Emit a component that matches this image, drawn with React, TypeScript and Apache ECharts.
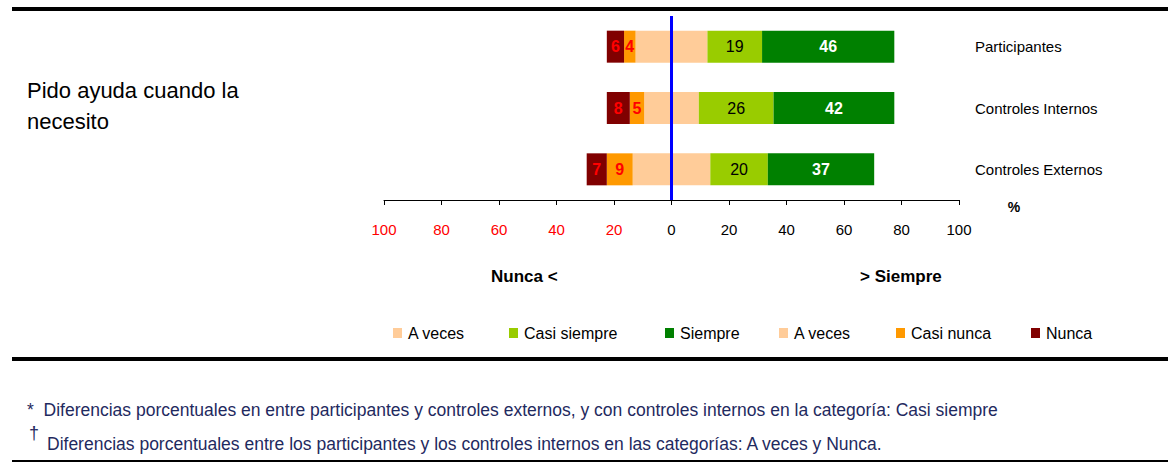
import React, { useEffect, useRef } from "react";
import * as echarts from "echarts";

const categories = ["Participantes", "Controles Internos", "Controles Externos"];
const nunca = [6, 8, 7];
const casiNunca = [4, 5, 9];
const aVeces = [25, 19, 27];
const casiSiempre = [19, 26, 20];
const siempre = [46, 42, 37];

const titleLines = ["Pido ayuda cuando la", "necesito"];
const legendNames = ["A veces", "Casi siempre", "Siempre", "A veces", "Casi nunca", "Nunca"];
const footnotes = [
  "*  Diferencias porcentuales en entre participantes y controles externos, y con controles internos en la categoría: Casi siempre",
  "Diferencias porcentuales entre los participantes y los controles internos en las categorías: A veces y Nunca.",
];

const COLORS: Record<string, string> = {
  "A veces": "#FFCC99",
  "Casi siempre": "#99CC00",
  Siempre: "#008000",
  "Casi nunca": "#FF9900",
  Nunca: "#800000",
};

const FONT = '"Liberation Sans", Arial, sans-serif';
const NAVY = "#1F2A60";

export default function App() {
  const ref = useRef<HTMLDivElement>(null);
  useEffect(() => {
    if (!ref.current) return;
    const chart = echarts.init(ref.current, undefined, { renderer: "svg" });

    const redLabel = {
      show: true,
      position: "inside",
      color: "#FF0000",
      fontWeight: "bold",
      fontSize: 16,
      fontFamily: FONT,
      formatter: (p: any) => String(Math.abs(p.value)),
    };

    const legendX = [393, 509, 665, 779, 896, 1031];
    const legendGraphics: any[] = [];
    legendNames.forEach((n, i) => {
      legendGraphics.push({
        type: "rect",
        shape: { x: legendX[i], y: 328, width: 9, height: 10 },
        style: { fill: COLORS[n] },
      });
      legendGraphics.push({
        type: "text",
        x: legendX[i] + 15,
        y: 333,
        style: { text: n, font: `16px ${FONT}`, fill: "#000", verticalAlign: "middle", align: "left" },
      });
    });

    const option: any = {
      animation: false,
      backgroundColor: "#fff",
      grid: { left: 384, right: 209, top: 16, height: 184, outerBoundsMode: "none" },
      xAxis: {
        type: "value",
        min: -100,
        max: 100,
        interval: 20,
        splitLine: { show: false },
        axisLine: { show: true, lineStyle: { color: "#000", width: 1 } },
        axisTick: { show: true, length: 5, lineStyle: { color: "#000" } },
        axisLabel: {
          margin: 22,
          formatter: (v: number) => (v < 0 ? `{r|${-v}}` : `{k|${v}}`),
          rich: {
            r: { color: "#FF0000", fontSize: 15, fontFamily: FONT },
            k: { color: "#000", fontSize: 15, fontFamily: FONT },
          },
        },
      },
      yAxis: {
        type: "category",
        data: categories,
        inverse: true,
        position: "right",
        axisLine: { show: false },
        axisTick: { show: false },
        splitLine: { show: false },
        axisLabel: {
          margin: 16,
          fontSize: 15,
          color: "#000",
          fontFamily: FONT,
          align: "left",
          verticalAlign: "middle",
          padding: [0, 0, 4, 0],
        },
      },
      series: [
        {
          name: "A veces (izq)",
          type: "bar",
          stack: "total",
          barWidth: 32,
          data: aVeces.map((v) => -v / 2),
          itemStyle: { color: COLORS["A veces"] },
        },
        {
          name: "Casi nunca",
          type: "bar",
          stack: "total",
          barWidth: 32,
          data: casiNunca.map((v) => -v),
          itemStyle: { color: COLORS["Casi nunca"] },
          label: redLabel,
        },
        {
          name: "Nunca",
          type: "bar",
          stack: "total",
          barWidth: 32,
          data: nunca.map((v) => -v),
          itemStyle: { color: COLORS["Nunca"] },
          label: redLabel,
        },
        {
          name: "A veces",
          type: "bar",
          stack: "total",
          barWidth: 32,
          data: aVeces.map((v) => v / 2),
          itemStyle: { color: COLORS["A veces"] },
        },
        {
          name: "Casi siempre",
          type: "bar",
          stack: "total",
          barWidth: 32,
          data: casiSiempre,
          itemStyle: { color: COLORS["Casi siempre"] },
          label: { show: true, position: "inside", color: "#000", fontSize: 16, fontFamily: FONT },
        },
        {
          name: "Siempre",
          type: "bar",
          stack: "total",
          barWidth: 32,
          data: siempre,
          itemStyle: { color: COLORS["Siempre"] },
          label: { show: true, position: "inside", color: "#fff", fontWeight: "bold", fontSize: 16, fontFamily: FONT },
          markLine: {
            silent: true,
            symbol: ["none", "none"],
            label: { show: false },
            lineStyle: { color: "#0000FF", width: 3, type: "solid" },
            data: [{ xAxis: 0 }],
          },
        },
      ],
      graphic: [
        { type: "rect", shape: { x: 12, y: 7, width: 1156, height: 4 }, style: { fill: "#000" } },
        { type: "rect", shape: { x: 12, y: 357, width: 1156, height: 4 }, style: { fill: "#000" } },
        { type: "rect", shape: { x: 12, y: 460, width: 1156, height: 2 }, style: { fill: "#000" } },
        {
          type: "text",
          x: 27,
          y: 90,
          style: { text: titleLines[0], font: `22px ${FONT}`, fill: "#000", verticalAlign: "middle" },
        },
        {
          type: "text",
          x: 27,
          y: 121,
          style: { text: titleLines[1], font: `22px ${FONT}`, fill: "#000", verticalAlign: "middle" },
        },
        {
          type: "text",
          x: 1014,
          y: 207,
          style: { text: "%", font: `bold 14px ${FONT}`, fill: "#000", verticalAlign: "middle", align: "center" },
        },
        {
          type: "text",
          x: 491,
          y: 276,
          style: { text: "Nunca <", font: `bold 17px ${FONT}`, fill: "#000", verticalAlign: "middle" },
        },
        {
          type: "text",
          x: 860,
          y: 276,
          style: { text: "> Siempre", font: `bold 17px ${FONT}`, fill: "#000", verticalAlign: "middle" },
        },
        ...legendGraphics,
        {
          type: "text",
          x: 27,
          y: 410,
          style: { text: footnotes[0], font: `17.5px ${FONT}`, fill: NAVY, verticalAlign: "middle" },
        },
        {
          type: "text",
          x: 29,
          y: 433,
          style: { text: "†", font: `18px ${FONT}`, fill: NAVY, verticalAlign: "middle" },
        },
        {
          type: "text",
          x: 47,
          y: 444,
          style: { text: footnotes[1], font: `17.5px ${FONT}`, fill: NAVY, verticalAlign: "middle" },
        },
      ],
    };
    chart.setOption(option);
    return () => chart.dispose();
  }, []);

  return (
    <div
      ref={ref}
      style={{ position: "absolute", left: 0, top: 0, width: 1168, height: 462, background: "#fff" }}
    />
  );
}
